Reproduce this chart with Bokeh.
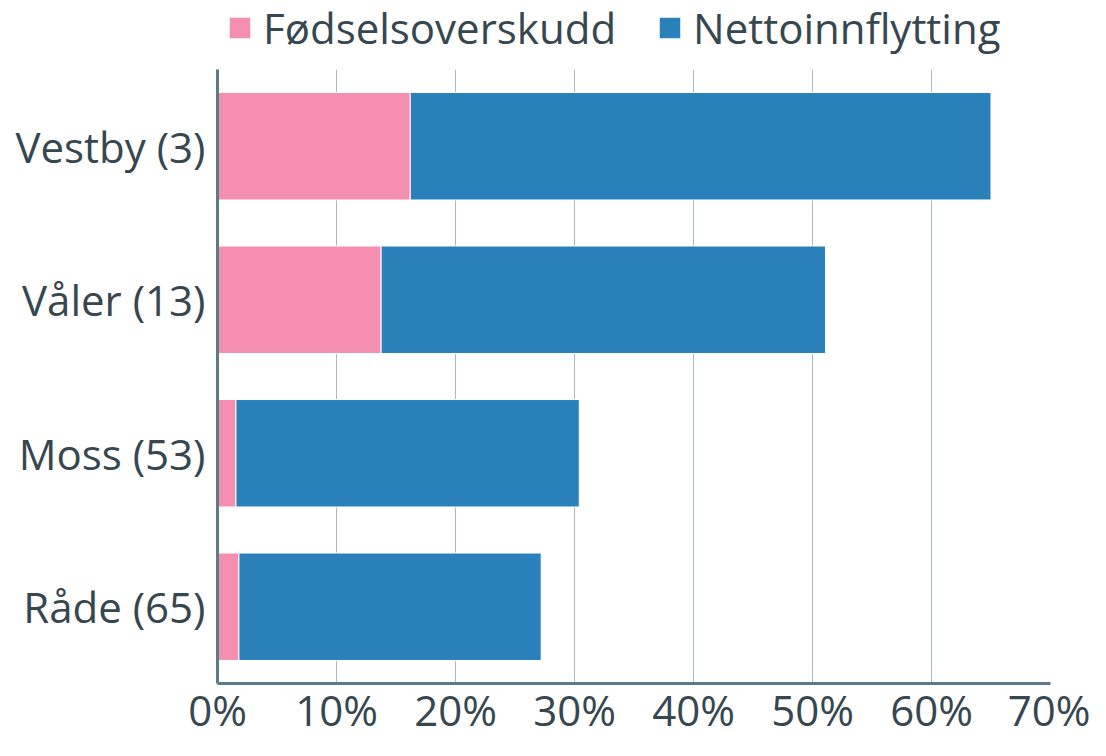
from bokeh.plotting import figure
from bokeh.layouts import column
from bokeh.models import (ColumnDataSource, FactorRange, Range1d, FixedTicker,
                          PrintfTickFormatter, Legend, LegendItem)
from bokeh.embed import file_html
from bokeh.resources import INLINE

kommuner = ["Vestby (3)", "Våler (13)", "Moss (53)", "Råde (65)"]
fodselsoverskudd = [16.2, 13.75, 1.55, 1.8]
nettoinnflytting = [48.8, 37.35, 28.85, 25.4]
serier = ["Fødselsoverskudd", "Nettoinnflytting"]
x_ticks = [0, 10, 20, 30, 40, 50, 60, 70]

farger = ["#f48fb1", "#2a80b9"]
tekst = "#36474f"
FONT = "Open Sans"

src = ColumnDataSource(dict(kommune=kommuner, fods=fodselsoverskudd, netto=nettoinnflytting))

# ---- main chart ----
p = figure(width=1090, height=684,
           y_range=FactorRange(*list(reversed(kommuner)), range_padding=0),
           x_range=Range1d(0, 70),
           output_backend="svg", toolbar_location=None,
           min_border_left=217, min_border_right=40, min_border_top=13, min_border_bottom=30)

rs = p.hbar_stack(["fods", "netto"], y="kommune", height=0.7, color=farger,
                  line_color="white", line_width=1, source=src)

p.outline_line_color = None
p.background_fill_color = "white"
p.border_fill_color = "white"

p.ygrid.grid_line_color = None
p.xgrid.grid_line_color = "#a9b8c2"
p.xgrid.grid_line_width = 1
p.xgrid.ticker = FixedTicker(ticks=x_ticks)

xa = p.xaxis[0]
xa.ticker = FixedTicker(ticks=x_ticks)
xa.formatter = PrintfTickFormatter(format="%d%%")
xa.axis_line_color = "#5b7b8a"
xa.axis_line_width = 3
xa.major_tick_line_color = None
xa.minor_tick_line_color = None
xa.major_tick_out = 0
xa.major_tick_in = 0
xa.major_label_standoff = -3
xa.major_label_text_font = FONT
xa.major_label_text_font_size = "42px"
xa.major_label_text_color = tekst

ya = p.yaxis[0]
ya.axis_line_color = "#5b7b8a"
ya.axis_line_width = 3
ya.major_tick_line_color = None
ya.minor_tick_line_color = None
ya.major_tick_out = 0
ya.major_tick_in = 0
ya.major_label_standoff = 12
ya.major_label_text_font = FONT
ya.major_label_text_font_size = "42px"
ya.major_label_text_color = tekst

# ---- legend strip above the chart (frame aligned with the chart's frame) ----
lf = figure(width=1090, height=56, x_range=Range1d(0, 1), y_range=Range1d(0, 1),
            output_backend="svg", toolbar_location=None,
            min_border_left=217, min_border_right=0,
            min_border_top=0, min_border_bottom=0)
lf.axis.visible = False
lf.grid.visible = False
lf.outline_line_color = None
lf.background_fill_color = "white"
lf.border_fill_color = "white"
# swatch renderers kept outside the visible range; only used for legend swatches
lrs = [lf.hbar(y=[-10], left=[0], right=[1], height=0.5, color=c, line_color="white")
       for c in farger]

legend = Legend(items=[LegendItem(label=serier[0], renderers=[lrs[0]]),
                       LegendItem(label=serier[1], renderers=[lrs[1]])],
                orientation="horizontal", location=(9, 0))
legend.label_text_font = FONT
legend.label_text_font_size = "42px"
legend.label_text_color = tekst
legend.glyph_width = 27
legend.glyph_height = 27
legend.label_standoff = 10
legend.spacing = 40
legend.padding = 0
legend.margin = 0
legend.border_line_color = None
legend.background_fill_alpha = 0
lf.add_layout(legend)

layout = column(lf, p, spacing=0)
open("out.html", "w").write(file_html(layout, INLINE))
